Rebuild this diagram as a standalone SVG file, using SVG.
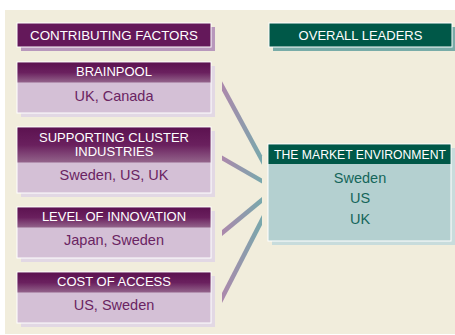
<svg xmlns="http://www.w3.org/2000/svg" width="455" height="335" viewBox="0 0 455 335">
<style>
.hdr{font-family:"Liberation Sans",Arial,sans-serif;font-size:13px;fill:#ffffff;text-anchor:middle}
.pb{font-family:"Liberation Sans",Arial,sans-serif;font-size:14.5px;fill:#6a2462;text-anchor:middle}
.tb{font-family:"Liberation Sans",Arial,sans-serif;font-size:14.5px;fill:#14665a;text-anchor:middle}
.pshadow{fill:#e2d8e4}
.pbody{fill:#d4c0d6;stroke:#ffffff;stroke-width:1}
.phead{fill:url(#pg)}
.conn{fill:url(#cg)}
</style>
<defs>
<linearGradient id="pg" x1="0" y1="0" x2="0" y2="1">
<stop offset="0" stop-color="#5c1250"/>
<stop offset="0.5" stop-color="#6a205e"/>
<stop offset="1" stop-color="#93648b"/>
</linearGradient>
<linearGradient id="cg" gradientUnits="userSpaceOnUse" x1="222" y1="0" x2="262" y2="0">
<stop offset="0" stop-color="#ac88ac"/>
<stop offset="1" stop-color="#78a8ac"/>
</linearGradient>
</defs>
<rect x="0" y="0" width="455" height="335" fill="#ffffff"/>
<rect x="5" y="10" width="450" height="324" fill="#f1eddc"/>

<g id="connectors">
<polygon class="conn" points="222,81.3 262,155.3 262,164.7 222,90.7"/>
<polygon class="conn" points="222,155.4 262,178.4 262,183.6 222,160.6"/>
<polygon class="conn" points="222,230.1 262,197.1 262,202.9 222,235.9"/>
<polygon class="conn" points="222,293 262,215 262,225 222,303"/>
</g>

<g id="contributing-factors">
<rect x="21" y="27" width="194" height="24" fill="#b898bc"/>
<rect x="17" y="23" width="194" height="24" fill="#64185a" stroke="#ffffff" stroke-width="1"/>
<text class="hdr" x="114" y="40" style="font-size:13.5px" textLength="168" lengthAdjust="spacingAndGlyphs">CONTRIBUTING FACTORS</text>
</g>

<g id="brainpool">
<rect class="pshadow" x="21" y="66" width="194" height="51"/>
<rect class="pbody" x="17" y="62" width="194" height="51"/>
<rect class="phead" x="17.5" y="62.5" width="193" height="20"/>
<text class="hdr" x="114" y="76">BRAINPOOL</text>
<text class="pb" x="114" y="101">UK, Canada</text>
</g>

<g id="supporting-cluster">
<rect class="pshadow" x="21" y="131" width="194" height="66"/>
<rect class="pbody" x="17" y="127" width="194" height="66"/>
<rect class="phead" x="17.5" y="127.5" width="193" height="35"/>
<text class="hdr" x="114" y="142">SUPPORTING CLUSTER</text>
<text class="hdr" x="114" y="156">INDUSTRIES</text>
<text class="pb" x="114" y="180">Sweden, US, UK</text>
</g>

<g id="level-of-innovation">
<rect class="pshadow" x="21" y="211" width="194" height="51"/>
<rect class="pbody" x="17" y="207" width="194" height="51"/>
<rect class="phead" x="17.5" y="207.5" width="193" height="20"/>
<text class="hdr" x="114" y="221">LEVEL OF INNOVATION</text>
<text class="pb" x="114" y="245">Japan, Sweden</text>
</g>

<g id="cost-of-access">
<rect class="pshadow" x="21" y="276" width="194" height="51"/>
<rect class="pbody" x="17" y="272" width="194" height="51"/>
<rect class="phead" x="17.5" y="272.5" width="193" height="20"/>
<text class="hdr" x="114" y="286">COST OF ACCESS</text>
<text class="pb" x="114" y="310">US, Sweden</text>
</g>

<g id="overall-leaders">
<rect x="273" y="27" width="190" height="24" fill="#78aca8"/>
<rect x="269" y="23" width="183" height="24" fill="#005848" stroke="#ffffff" stroke-width="1"/>
<text class="hdr" x="360.5" y="40">OVERALL LEADERS</text>
</g>

<g id="market-environment">
<rect x="272" y="148" width="190" height="97" fill="#c8dcdc"/>
<rect x="268" y="144" width="183" height="97" fill="#b4d0d0" stroke="#ffffff" stroke-width="1"/>
<rect x="268.5" y="144.5" width="182" height="19.5" fill="#005848"/>
<text class="hdr" x="360" y="158.5" style="font-size:12.2px">THE MARKET ENVIRONMENT</text>
<text class="tb" x="360" y="183">Sweden</text>
<text class="tb" x="360" y="203">US</text>
<text class="tb" x="360" y="224">UK</text>
</g>
</svg>
